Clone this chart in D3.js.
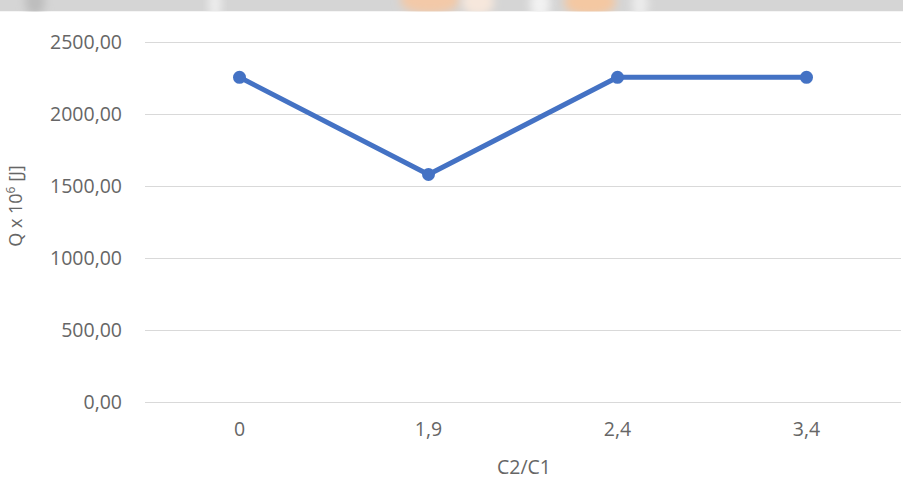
<!DOCTYPE html>
<html>
<head>
<meta charset="utf-8">
<script src="https://cdn.jsdelivr.net/npm/d3@7"></script>
<style>
  html, body { margin: 0; padding: 0; background: #fff; }
  svg { display: block; }
  .tick text { font-family: "Open Sans", sans-serif; fill: #666666; }
</style>
</head>
<body>
<svg id="chart" width="903" height="485"></svg>
<script>
// C2/C1 ratio categories and the heat Q (x 10^6 J) for each
const categories = ["0", "1,9", "2,4", "3,4"];
const heatValues = [2255, 1580, 2255, 2255];
const yTicks = [0, 500, 1000, 1500, 2000, 2500];

const W = 903, H = 485;
const margin = { top: 42, right: 2, bottom: 83, left: 145 };
const FS = 19.5;
const TEXT = "#666666";
const svg = d3.select("#chart");

// header strip across the top
const defs = svg.append("defs");
defs.append("filter").attr("id", "soft")
  .attr("x", "-50%").attr("y", "-50%").attr("width", "200%").attr("height", "200%")
  .append("feGaussianBlur").attr("stdDeviation", 4);
defs.append("clipPath").attr("id", "bandClip")
  .append("rect").attr("x", 0).attr("y", 0).attr("width", W).attr("height", 11.5);

const band = svg.append("g").attr("clip-path", "url(#bandClip)");
band.append("rect").attr("x", 0).attr("y", 0).attr("width", W).attr("height", 11.5).attr("fill", "#d5d5d5");
const blobs = [
  { cx: 35, cy: 2, rx: 10, ry: 14, fill: "#bdbdbd" },
  { cx: 215, cy: 4, rx: 6, ry: 16, fill: "#efefef" },
  { cx: 430, cy: 0, rx: 30, ry: 14, fill: "#f3c9a8" },
  { cx: 478, cy: 2, rx: 16, ry: 14, fill: "#f6e7dc" },
  { cx: 540, cy: 4, rx: 10, ry: 16, fill: "#f2f2f2" },
  { cx: 590, cy: 2, rx: 26, ry: 14, fill: "#f4c8a2" },
  { cx: 640, cy: 4, rx: 8, ry: 16, fill: "#ececec" }
];
band.selectAll("ellipse").data(blobs).join("ellipse")
  .attr("cx", d => d.cx).attr("cy", d => d.cy)
  .attr("rx", d => d.rx).attr("ry", d => d.ry)
  .attr("fill", d => d.fill).attr("filter", "url(#soft)");

const x = d3.scaleBand()
  .domain(categories)
  .range([margin.left, W - margin.right]);

const y = d3.scaleLinear()
  .domain([0, 2500])
  .range([H - margin.bottom, margin.top]);

// horizontal gridlines with value labels
const yAxis = svg.append("g")
  .attr("transform", `translate(${margin.left},0)`)
  .call(d3.axisLeft(y)
    .tickValues(yTicks)
    .tickSize(-(W - margin.left - margin.right))
    .tickPadding(23)
    .tickFormat(d => d3.format(".2f")(d).replace(".", ",")));
yAxis.select(".domain").remove();
yAxis.selectAll(".tick line").attr("stroke", "#d9d9d9").attr("stroke-width", 1.2);
yAxis.selectAll(".tick text").attr("font-size", FS);

// category labels under the plot
const xAxis = svg.append("g")
  .attr("transform", `translate(0,${H - margin.bottom})`)
  .call(d3.axisBottom(x).tickSize(0).tickPadding(20));
xAxis.select(".domain").remove();
xAxis.selectAll(".tick text").attr("font-size", FS);

// axis titles
svg.append("text")
  .attr("x", 524)
  .attr("y", 474)
  .attr("text-anchor", "middle")
  .attr("font-family", "Open Sans, sans-serif")
  .attr("font-size", FS)
  .attr("fill", TEXT)
  .text("C2/C1");

const yTitle = svg.append("text")
  .attr("transform", `translate(22,206) rotate(-90)`)
  .attr("text-anchor", "middle")
  .attr("font-family", "Open Sans, sans-serif")
  .attr("font-size", 18)
  .attr("fill", TEXT);
yTitle.append("tspan").text("Q x 10");
yTitle.append("tspan").attr("font-size", 12).attr("dy", -7).text("6");
yTitle.append("tspan").attr("dy", 7).text(" [J]");

// data series
const pts = categories.map((c, i) => ({ c, v: heatValues[i] }));
const line = d3.line()
  .x(d => x(d.c) + x.bandwidth() / 2)
  .y(d => y(d.v));

svg.append("path")
  .datum(pts)
  .attr("d", line)
  .attr("fill", "none")
  .attr("stroke", "#4472c4")
  .attr("stroke-width", 5)
  .attr("stroke-linejoin", "round");

svg.selectAll("circle.pt").data(pts).join("circle")
  .attr("class", "pt")
  .attr("cx", d => x(d.c) + x.bandwidth() / 2)
  .attr("cy", d => y(d.v))
  .attr("r", 6.5)
  .attr("fill", "#4472c4");
</script>
</body>
</html>
